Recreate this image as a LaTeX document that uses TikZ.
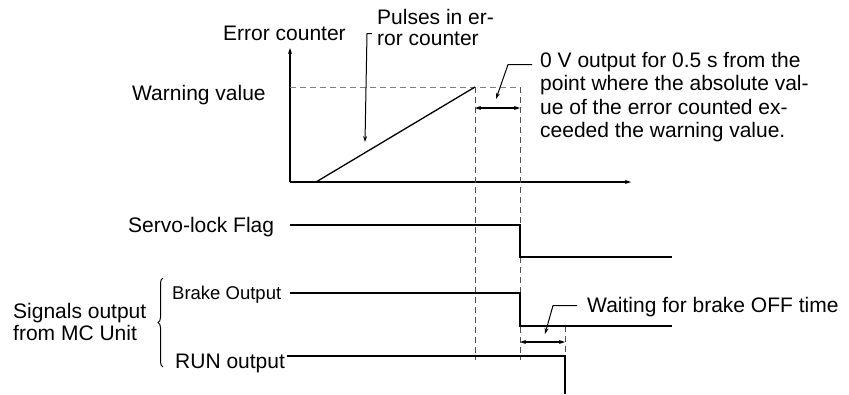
\documentclass[tikz,border=0pt]{standalone}
\usepackage{fontspec}
\setmainfont{Liberation Sans}
\usetikzlibrary{arrows.meta,positioning,calc,decorations.pathreplacing}
\definecolor{guidec}{HTML}{808080}
\definecolor{markc}{HTML}{505050}
\tikzset{
  lbl/.style={font=\fontsize{21}{23.5}\selectfont, inner sep=0pt, anchor=base west, align=left},
  smalllbl/.style={font=\fontsize{18.5}{21}\selectfont, inner sep=0pt, anchor=base west},
  axis/.style={line width=1.8pt, -{Stealth[length=6pt,width=4pt]}},
  sig/.style={line width=1.8pt},
  ramp/.style={line width=1.3pt},
  guide/.style={guidec, line width=0.9pt, dash pattern=on 6pt off 4pt},
  timemark/.style={markc, line width=0.9pt, dash pattern=on 6pt off 4pt},
  callout/.style={line width=1pt, -{Stealth[length=6pt,width=4pt]}},
  span/.style={line width=1.2pt, {Stealth[length=6pt,width=4pt]}-{Stealth[length=6pt,width=4pt]}},
  curly/.style={line width=1pt, decorate, decoration={brace, amplitude=5pt}},
}

\begin{document}
\begin{tikzpicture}[x=1pt,y=-1pt]
  \useasboundingbox (0,0) rectangle (849,394);
  % error counter plot
  \coordinate (org) at (290,182);
  \coordinate (warn) at (475,87);
  \draw[axis] (org) -- (290,48);
  \draw[axis] (org) -- (631,182);
  \draw[guide] (290,87) -- (520,87);
  \draw[timemark] (520,87) -- (520,360);
  \draw[timemark] (warn) -- (475,360);
  \draw[timemark] (565,326) -- (565,360);
  \draw[ramp] (316,182) -- (warn);
  \node[lbl] (errc) at (223,40) {Error counter};
  \node[lbl] (warnv) at (132,100) {Warning value};
  % base anchor sits on the last line
  \node[lbl, font=\fontsize{21}{21}\selectfont] (pulses) at (377,45) {Pulses in er-\\ror counter};
  \node[lbl] (zerov) at (540,137.5) {0 V output for 0.5 s from the\\point where the absolute val-\\ue of the error counted ex-\\ceeded the warning value.};
  \coordinate (ptip) at (365,142);
  \coordinate (ztip) at (496,99);
  \draw[callout] ($(pulses.north west)+(-5,25)$) -- ++(-5,0) -- (ptip);
  \draw[callout] ($(zerov.north west)+(-8,13)$) -- ++(-24,0) -- (ztip);
  \draw[span] (475,108) -- (520,108);
  % signals
  \node[lbl] (servo) at (128,232) {Servo-lock Flag};
  \node[smalllbl] (brake) at (172,299) {Brake Output};
  \node[lbl] (run) at (175,368) {RUN output};
  \node[lbl, font=\fontsize{21}{22}\selectfont] (mcu) at (13,340) {Signals output\\from MC Unit};
  \draw[sig] (290,225) -| (520,257) -- (672,257);
  \draw[sig] (290,293) -| (520,326) -- (672,326);
  \draw[sig] ($(run.east)+(2,-7)$) -| (565,394);
  \draw[curly] (163,367) -- (163,278);
  \node[lbl] (wait) at (587,312) {Waiting for brake OFF time};
  \coordinate (wtip) at (545,334);
  \draw[callout] ($(wait.west)+(-10,-1)$) -- ++(-24,0) -- (wtip);
  \draw[span] (520,342) -- (565,342);
\end{tikzpicture}
\end{document}
